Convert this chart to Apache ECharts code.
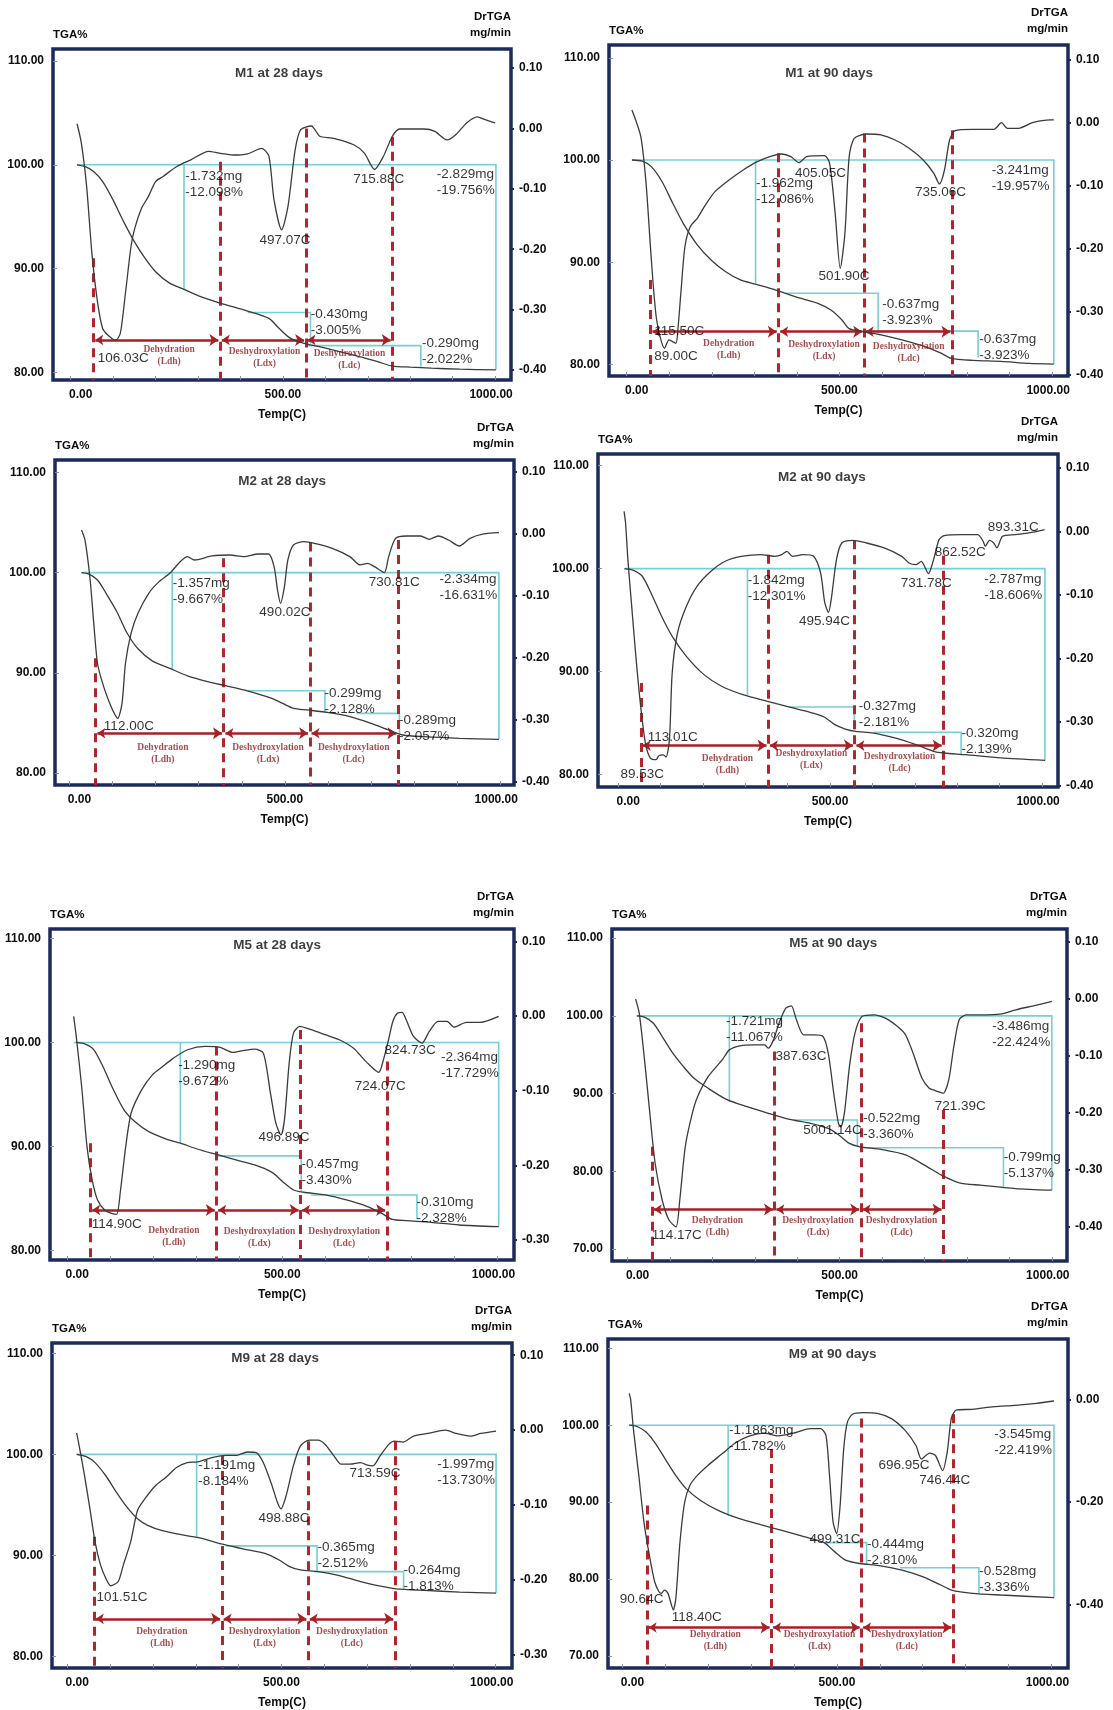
<!DOCTYPE html>
<html>
<head>
<meta charset="utf-8">
<script src="https://cdn.jsdelivr.net/npm/echarts@6/dist/echarts.min.js"></script>
<style>
html,body{margin:0;padding:0;background:#fff;}
#chart{width:1113px;height:1710px;}
</style>
</head>
<body>
<div id="chart"></div>
<script>
// ---------- shared tick values ----------
const X_TICKS = [0,100,200,300,400,500,600,700,800,900,1000];
const X_LABELS = [0,500,1000];
const TGA_TICKS_80 = [80,90,100,110];
const TGA_TICKS_70 = [70,80,90,100,110];
const DTG_TICKS_40 = [0.1,0,-0.1,-0.2,-0.3,-0.4];
const DTG_TICKS_30 = [0.1,0,-0.1,-0.2,-0.3];
const DTG_TICKS_EVEN = [0,-0.2,-0.4];
const PHASE_TEXT = ['Dehydration\n(Ldh)','Deshydroxylation\n(Ldx)','Deshydroxylation\n(Ldc)'];
const TITLES = ['M1 at 28 days','M1 at 90 days','M2 at 28 days','M2 at 90 days','M5 at 28 days','M5 at 90 days','M9 at 28 days','M9 at 90 days'];

// ---------- M1 at 28 days ----------
const m1d28Tga = [[15,100],[33,99.84],[54,99.36],[75,98.4],[100,96.6],[125,94.5],[150,92.6],[175,91.0],[200,89.7],[233,88.6],[267,88.0],[300,87.4],[350,86.7],[417,85.9],[467,85.2],[492,84.2],[517,83.3],[550,82.8],[583,82.5],[633,82.0],[683,81.5],[725,81.0],[758,80.6],[800,80.5],[850,80.4],[917,80.3],[1002,80.24]];
const m1d28Dtg = [[15,0.0077],[25,-0.024],[37.5,-0.096],[50,-0.207],[62.5,-0.284],[75,-0.331],[87.5,-0.342],[106,-0.351],[117,-0.339],[129,-0.273],[142,-0.196],[150,-0.168],[167,-0.132],[183,-0.113],[200,-0.088],[217,-0.080],[250,-0.063],[283,-0.052],[325,-0.038],[350,-0.041],[383,-0.044],[417,-0.042],[450,-0.033],[467,-0.046],[479,-0.118],[497,-0.168],[512,-0.129],[529,-0.035],[542,-0.002],[567,0.004],[587,-0.013],[617,-0.016],[667,-0.027],[692,-0.041],[716,-0.068],[737,-0.046],[758,-0.013],[775,-0.001],[833,-0.001],[858,-0.005],[887,-0.019],[908,-0.010],[933,0.009],[958,0.019],[975,0.015],[1000,0.009]];
const m1d28Total = [15,1002,19.756];
const m1d28Steps = [[267,267,100,12.098],[417,565,85.76,3.005],[558,825,82.57,2.022]];
const m1d28Bounds = [54,352,554,758];
const m1d28BoundTops = [91.0,100.3,103.5,102.7];
const m1d28Notes = [[271,99.65,'-1.732mg\n-12.098%'],[446,93.47,'497.07C'],[667,99.3,'715.88C'],[864,99.84,'-2.829mg\n-19.756%'],[567,86.3,'-0.430mg\n-3.005%'],[65,82.1,'106.03C'],[829,83.55,'-0.290mg\n-2.022%']];
const m1d28Phases = [[233,82.7],[458,82.57],[658,82.3]];

// ---------- M1 at 90 days ----------
const m1d90Tga = [[12.4,100],[37,99.9],[58,99.35],[83,97.9],[108,95.8],[133,93.8],[166,91.7],[199,90.2],[232,89.1],[266,88.3],[303,87.85],[349,87.3],[398,86.6],[448,86.0],[481,85.3],[506,84.35],[523,83.5],[556,83.2],[598,82.9],[647,82.4],[705,81.7],[739,81.1],[763,80.6],[813,80.4],[880,80.3],[946,80.1],[1004,80.04]];
const m1d90Dtg = [[12.4,0.0206],[33.2,-0.0217],[45.6,-0.0958],[58.1,-0.2175],[70.5,-0.3127],[89,-0.3577],[99.6,-0.3444],[115.5,-0.3497],[120.3,-0.3286],[128.6,-0.2598],[137,-0.196],[149.4,-0.1646],[166,-0.1513],[182.6,-0.1328],[207.5,-0.109],[240.7,-0.0905],[273.9,-0.0746],[307,-0.0614],[340,-0.0524],[365,-0.0492],[386,-0.0534],[405,-0.063],[423,-0.0534],[465,-0.0519],[477,-0.064],[490,-0.143],[502,-0.2307],[513,-0.175],[523,-0.0534],[535,-0.0243],[564,-0.0175],[597.5,-0.019],[631,-0.027],[664,-0.040],[697,-0.0587],[722,-0.0799],[735,-0.0968],[747,-0.0746],[759,-0.027],[772,-0.0122],[813,-0.010],[863,-0.010],[881,0.0005],[895,-0.0085],[921,-0.0085],[954,0.0005],[996,0.0048],[1004,0.0048]];
const m1d90Total = [12.4,1004,19.957];
const m1d90Steps = [[303,303,100,12.086],[373,591,86.96,3.923],[564,826,83.26,2.6]];
const m1d90Bounds = [56.4,356.8,557.7,765];
const m1d90BoundTops = [88.26,100.65,102.6,102.9];
const m1d90Notes = [[305,98.43,'-1.962mg\n-12.086%'],[397,99.48,'405.05C'],[452,89.37,'501.90C'],[679,97.59,'735.06C'],[859,99.74,'-3.241mg\n-19.957%'],[602,86.6,'-0.637mg\n-3.923%'],[66,83.99,'115.50C'],[66,81.55,'89.00C'],[830,83.18,'-0.637mg\n-3.923%']];
const m1d90Phases = [[241,82.56],[465,82.46],[664,82.33]];

// ---------- M2 at 28 days ----------
const m2d28Tga = [[27.9,100],[44,99.87],[65,99.27],[85,97.94],[110,96.1],[134,93.95],[159,92.4],[192,91.2],[233,90.45],[274,89.7],[323,89.1],[364,88.7],[413,88.2],[470,87.45],[495,86.95],[520,86.46],[552,86.3],[602,86.03],[651,85.63],[700,84.96],[741,84.3],[774,83.8],[823,83.63],[905,83.47],[997,83.37]];
const m2d28Dtg = [[27.9,0.0059],[36,-0.0102],[48,-0.0747],[57,-0.15],[65,-0.209],[77,-0.2414],[93.4,-0.2737],[104,-0.2898],[112,-0.298],[122,-0.2737],[130,-0.209],[143,-0.1608],[159,-0.1285],[184,-0.0962],[208,-0.0774],[233,-0.064],[257,-0.0452],[274,-0.037],[290,-0.0425],[331,-0.036],[372,-0.0344],[405,-0.037],[438,-0.0328],[462,-0.0328],[475,-0.0532],[483,-0.0909],[490,-0.1124],[499,-0.0855],[507,-0.0425],[520,-0.0183],[544,-0.0129],[569,-0.0156],[610,-0.0237],[651,-0.037],[675,-0.0505],[692,-0.0478],[708,-0.0532],[730.8,-0.0629],[741,-0.037],[757,-0.0075],[782,-0.0038],[815,-0.0038],[835,-0.0091],[856,-0.0038],[880,-0.0102],[905,-0.0199],[930,-0.0075],[962,-0.0005],[997,0.0016]];
const m2d28Total = [27.9,997,16.631];
const m2d28Steps = [[238.5,238.5,100,9.667],[413,593,88.22,2.128],[667,766,85.96,2.057]];
const m2d28Bounds = [60.7,358,558,763];
const m2d28BoundTops = [91.45,101.43,103,103.26];
const m2d28Notes = [[241,99.73,'-1.357mg\n-9.667%'],[442,96.81,'490.02C'],[696,99.8,'730.81C'],[860,100.13,'-2.334mg\n-16.631%'],[593,88.69,'-0.299mg\n-2.128%'],[766,86.0,'-0.289mg\n-2.057%'],[81,85.43,'112.00C']];
const m2d28Phases = [[218,83.13],[462,83.13],[661,83.13]];

// ---------- M2 at 90 days ----------
const m2d90Tga = [[15,100],[36,99.84],[57,99.26],[77.5,97.64],[102.5,95.37],[127.5,93.43],[161,91.49],[202.5,89.71],[244,88.58],[294,87.77],[352.5,87.12],[402.5,86.57],[452.5,86.05],[486,85.6],[511,84.85],[536,84.43],[561,84.2],[602.5,84.04],[652.5,83.56],[702.5,82.91],[744,82.27],[769,82.1],[819,81.94],[902.5,81.62],[1007,81.39]];
const m2d90Dtg = [[14,0.0317],[17.5,0.0133],[23,-0.0444],[32,-0.118],[42.5,-0.202],[54,-0.2808],[65,-0.336],[76,-0.357],[89.5,-0.3596],[96,-0.3533],[106.7,-0.352],[113,-0.3554],[121,-0.328],[127.5,-0.223],[140,-0.16],[161,-0.118],[186,-0.0865],[219,-0.0628],[252.5,-0.047],[294,-0.039],[336,-0.0366],[369,-0.0392],[386,-0.0366],[398,-0.0313],[411,-0.0392],[436,-0.0366],[461,-0.0392],[477.5,-0.0654],[487.5,-0.1127],[496,-0.1274],[502.5,-0.1075],[515,-0.0444],[527.5,-0.0182],[552.5,-0.014],[586,-0.0182],[627.5,-0.026],[669,-0.0392],[686,-0.0497],[702.5,-0.0523],[715,-0.0471],[731.8,-0.0665],[744,-0.0444],[757,-0.0129],[769,-0.0066],[811,-0.005],[848,-0.005],[861,-0.0155],[866,-0.0234],[876,-0.014],[886,-0.0182],[893.3,-0.026],[906.7,-0.0077],[936,-0.005],[969,-0.0024],[1006,0.0028]];
const m2d90Total = [15,1006.7,18.606];
const m2d90Steps = [[305,305,100,12.301],[402.5,557,86.57,2.181],[602.5,809,84.11,2.139]];
const m2d90Bounds = [54,354,558,767];
const m2d90BoundTops = [88.9,101.36,102.75,101.26];
const m2d90Notes = [[307,99.64,'-1.842mg\n-12.301%'],[427.5,95.66,'495.94C'],[667.5,99.32,'731.78C'],[748,102.36,'862.52C'],[873,104.72,'893.31C'],[865,99.71,'-2.787mg\n-18.606%'],[569,87.35,'-0.327mg\n-2.181%'],[811,84.76,'-0.320mg\n-2.139%'],[71,84.34,'113.01C'],[6.7,80.78,'89.53C']];
const m2d90Phases = [[259,82.1],[457,82.6],[665,82.3]];

// ---------- M5 at 28 days ----------
const m5d28Tga = [[21,100],[42,99.84],[62,99.29],[83,97.69],[107.5,95.44],[132,93.51],[157,92.39],[189.5,91.42],[230.5,90.7],[263,90.3],[304,89.72],[345,89.24],[386,88.76],[436,88.21],[477,87.47],[501,86.6],[526,85.8],[550,85.58],[600,85.32],[649,84.84],[698,84.2],[731,83.55],[755.5,82.97],[788,82.85],[846,82.69],[911,82.43],[1003,82.27]];
const m5d28Dtg = [[15,-0.0006],[21,-0.0274],[33.6,-0.0944],[46,-0.1749],[58,-0.2196],[70.5,-0.2464],[87,-0.2598],[103,-0.2643],[114.9,-0.2656],[124,-0.233],[136,-0.1749],[148.5,-0.1302],[173,-0.0989],[198,-0.0788],[222,-0.0676],[247,-0.0564],[280,-0.0452],[321,-0.0408],[353.5,-0.0417],[386,-0.0488],[411,-0.0461],[435.6,-0.0444],[456,-0.0497],[472.5,-0.1034],[485,-0.1436],[496.9,-0.1592],[505,-0.1391],[516,-0.0631],[526,-0.0229],[540.6,-0.014],[567,-0.0184],[600,-0.0251],[632.5,-0.0318],[665,-0.043],[698,-0.0631],[724.1,-0.0756],[735,-0.0587],[747,-0.0318],[757,-0.0073],[768,0.0039],[778.5,0.0048],[788,-0.005],[805,-0.0274],[824.7,-0.0363],[841.7,-0.0207],[862,-0.0073],[883,-0.0073],[899,-0.0149],[928,-0.0086],[960,-0.0086],[1003,-0.0006]];
const m5d28Total = [15,1003,17.729];
const m5d28Steps = [[263,263,100,9.672],[349.5,544,89.08,3.430],[567,813,85.32,2.328]];
const m5d28Bounds = [54,347,542,743];
const m5d28BoundTops = [90.3,99.6,101.2,98.17];
const m5d28Notes = [[259,98.55,'-1.290mg\n-9.672%'],[446,91.55,'496.89C'],[669.4,96.47,'724.07C'],[739,100,'824.73C'],[870,99.33,'-2.364mg\n-17.729%'],[546,88.98,'-0.457mg\n-3.430%'],[813,85.29,'-0.310mg\n-2.328%'],[58,83.2,'114.90C']];
const m5d28Phases = [[249,82.46],[448,82.37],[645,82.37]];

// ---------- M5 at 90 days ----------
const m5d90Tga = [[21.7,100],[40,99.83],[61,99.05],[81.7,97.34],[106.7,95.19],[131.7,93.47],[156.7,91.97],[190,90.68],[231.7,89.3],[281.7,88.32],[331.7,87.46],[381.7,86.68],[431.7,86.17],[473,85.52],[498,84.67],[523,83.59],[548,83.16],[598,82.82],[656.7,82.09],[706.7,80.58],[740,79.51],[781.7,78.52],[831.7,78.22],[915,77.79],[1000,77.58]];
const m5d90Dtg = [[19,-0.0012],[27.5,-0.0257],[40,-0.1076],[52.5,-0.2012],[65,-0.2889],[81.7,-0.3532],[98,-0.3883],[114.2,-0.4],[123,-0.3532],[136,-0.2596],[152.5,-0.2012],[165,-0.1719],[190,-0.1368],[223,-0.1076],[240,-0.09],[265,-0.083],[298,-0.0813],[323,-0.0813],[331.7,-0.0871],[344,-0.0725],[357,-0.0433],[373,-0.017],[386,-0.0129],[398,-0.0374],[415,-0.0637],[440,-0.0637],[461,-0.0667],[473,-0.0959],[486,-0.1661],[497,-0.2187],[502.5,-0.2246],[511,-0.2012],[523,-0.1193],[536,-0.0608],[552.5,-0.0316],[581.7,-0.0287],[615,-0.0374],[652.5,-0.0608],[673,-0.0959],[694,-0.1398],[711,-0.1573],[721.4,-0.1602],[731.7,-0.1632],[744,-0.1661],[757,-0.1427],[769,-0.0842],[781.7,-0.0374],[798,-0.0287],[831.7,-0.0287],[881.7,-0.0269],[915,-0.0199],[956.7,-0.0129],[1000,-0.0053]];
const m5d90Total = [21.7,1000,22.424];
const m5d90Steps = [[240,240,100,11.067],[390,541.7,86.6,3.360],[552.5,886,83.03,5.137]];
const m5d90Bounds = [58,346.7,550,744];
const m5d90BoundTops = [83.16,95.4,99.05,87.9];
const m5d90Notes = [[233,100.3,'-1.721mg\n-11.067%'],[350,95.79,'387.63C'],[415,86.25,'5001.14C'],[725,89.35,'721.39C'],[861,99.66,'-3.486mg\n-22.424%'],[556.7,87.84,'-0.522mg\n-3.360%'],[888,82.82,'-0.799mg\n-5.137%'],[58,72.68,'114.17C']];
const m5d90Phases = [[213,74.4],[450,74.4],[647,74.4]];

// ---------- M9 at 28 days ----------
const m9d28Tga = [[22,100],[44.6,99.77],[65,99.18],[90,97.88],[115,96.24],[139.5,94.77],[164,93.63],[189,92.95],[222,92.45],[271.7,92.0],[312,91.7],[362.5,91.1],[412,90.62],[461.6,90.19],[494.6,89.54],[519,88.89],[544,88.56],[585.5,88.39],[635,88],[684.6,87.41],[734,86.92],[767,86.69],[833,86.53],[916,86.37],[1000.8,86.27]];
const m9d28Dtg = [[22,-0.0036],[28,-0.0213],[40.5,-0.061],[53,-0.1051],[65,-0.1492],[77.6,-0.18],[90,-0.1977],[101.5,-0.2078],[119,-0.2021],[131,-0.18],[148,-0.1492],[164,-0.1073],[181,-0.0918],[206,-0.0742],[230,-0.0632],[255,-0.05],[280,-0.0433],[304.7,-0.0424],[337.7,-0.0367],[370.8,-0.0336],[395.5,-0.0336],[420,-0.0292],[441,-0.0301],[457.5,-0.0433],[478,-0.0742],[490.5,-0.0963],[498.9,-0.1051],[511,-0.0874],[527.7,-0.0477],[544,-0.0213],[565,-0.0133],[585.5,-0.0133],[602,-0.0191],[622.6,-0.0345],[639,-0.0455],[660,-0.0455],[684.6,-0.0433],[701,-0.0469],[713.6,-0.0477],[730,-0.0345],[750.6,-0.0191],[763,-0.0147],[783.6,-0.016],[808.4,-0.008],[841.5,-0.0045],[882.7,-0.0001],[907.5,-0.0045],[940.5,-0.008],[965.3,-0.0045],[1000.8,-0.0014]];
const m9d28Total = [22,1000.8,13.730];
const m9d28Steps = [[302,302,100,8.184],[370.8,583,90.94,2.512],[577,785,88.39,1.813]];
const m9d28Bounds = [62.8,361,562,764.7];
const m9d28BoundTops = [91.83,99.84,101.3,101.3];
const m9d28Notes = [[307,99.64,'-1.191mg\n-8.184%'],[447.6,94.41,'498.88C'],[660,98.82,'713.59C'],[864.6,99.71,'-1.997mg\n-13.730%'],[585.5,91.53,'-0.365mg\n-2.512%'],[786,89.24,'-0.264mg\n-1.813%'],[69.4,86.56,'101.51C']];
const m9d28Phases = [[222,83.03],[461.6,83.03],[665.6,83.03]];

// ---------- M9 at 90 days ----------
const m9d90Tga = [[15.6,100],[33.8,99.83],[54.4,99.14],[75,97.76],[99.7,95.6],[124.4,93.45],[149,91.72],[182,90.21],[223,88.92],[272.6,87.84],[322,87.06],[371.5,86.33],[421,85.55],[470,84.73],[495,83.53],[520,82.45],[552.7,82.02],[602,81.72],[651.6,81.16],[701,80.29],[742,79.22],[767,78.57],[816,78.14],[882,77.92],[1006,77.58]];
const m9d90Dtg = [[15.6,0.0116],[19,0],[25.5,-0.058],[38,-0.148],[50,-0.2387],[62.6,-0.3032],[75,-0.3548],[85,-0.3742],[90.6,-0.3774],[98,-0.371],[106,-0.3774],[113,-0.3968],[118.4,-0.4097],[124.4,-0.3871],[134,-0.2774],[145,-0.2],[157,-0.1677],[174,-0.1484],[198.5,-0.129],[231.5,-0.1065],[264.4,-0.0839],[297,-0.071],[330,-0.0658],[363,-0.071],[404.4,-0.0645],[437.4,-0.0568],[462,-0.0568],[474.5,-0.071],[482.7,-0.1484],[491,-0.2387],[499.3,-0.2613],[507.4,-0.2065],[515.7,-0.0968],[524,-0.0452],[536,-0.029],[561,-0.0258],[594,-0.0271],[627,-0.0374],[660,-0.0613],[684.5,-0.0903],[697,-0.1161],[716,-0.1045],[730,-0.1097],[746.4,-0.1387],[757,-0.1032],[767,-0.0355],[779,-0.0206],[816,-0.0194],[866,-0.0142],[915,-0.0116],[965,-0.0077],[1006,-0.0032]];
const m9d90Total = [15.6,1006,22.419];
const m9d90Steps = [[246.3,246.3,100,11.782],[470,569,84.73,2.810],[647.5,831,81.46,3.336]];
const m9d90Bounds = [57,347,557,771];
const m9d90BoundTops = [89.56,96.9,100.86,101.42];
const m9d90Notes = [[249.6,100.3,'-1.1863mg\n-11.782%'],[437,86.2,'499.31C'],[598,95.77,'696.95C'],[693,93.75,'746.44C'],[868,99.78,'-3.545mg\n-22.419%'],[571,85.51,'-0.444mg\n-2.810%'],[833,81.98,'-0.528mg\n-3.336%'],[-5,78.31,'90.64C'],[116,76.02,'118.40C']];
const m9d90Phases = [[217.5,73.44],[460.5,73.44],[664,73.44]];

// ---------- layout: frame boxes (px) and axis extents ----------
const GRID_BOX = [
  [53,49,458,331],[609,45,459,331],
  [55,460,459,325],[598,454,460,333],
  [50,929,464,331],[612,929,455,332],
  [52,1343,460,328],[608,1339,460,331]
];
const X_RANGE = [[-41.7,1037.5],[-41.5,1037.3],[-33.6,1032],[-47.5,1037.5],[-40,1038.6],[-36.7,1035.8],[-35.5,1038],[-33.8,1038.7]];
const TGA_RANGE = [[79.26,111.16],[78.87,111.25],[78.81,111.24],[78.8,111.13],[79.06,110.92],[68.47,111.17],[78.85,111.02],[68.43,111.21]];
const DTG_RANGE = [[-0.4166,0.1315],[-0.4016,0.1238],[-0.4054,0.1188],[-0.4026,0.122],[-0.3268,0.1165],[-0.4596,0.1216],[-0.3176,0.1163],[-0.5226,0.1174]];
const TITLE_AT = [[492,108.8],[477,108.4],[495,109.08],[481.7,108.8],[489,109.3],[486,109.28],[486.4,109.48],[491,109.18]];
const ARROW_LEVEL = [83.12,83.21,83.97,82.82,83.87,75.09,83.72,73.7];

const PANELS = [
  {tga:m1d28Tga,dtg:m1d28Dtg,total:m1d28Total,steps:m1d28Steps,bounds:m1d28Bounds,tops:m1d28BoundTops,notes:m1d28Notes,phases:m1d28Phases,lt:TGA_TICKS_80,rt:DTG_TICKS_40},
  {tga:m1d90Tga,dtg:m1d90Dtg,total:m1d90Total,steps:m1d90Steps,bounds:m1d90Bounds,tops:m1d90BoundTops,notes:m1d90Notes,phases:m1d90Phases,lt:TGA_TICKS_80,rt:DTG_TICKS_40},
  {tga:m2d28Tga,dtg:m2d28Dtg,total:m2d28Total,steps:m2d28Steps,bounds:m2d28Bounds,tops:m2d28BoundTops,notes:m2d28Notes,phases:m2d28Phases,lt:TGA_TICKS_80,rt:DTG_TICKS_40},
  {tga:m2d90Tga,dtg:m2d90Dtg,total:m2d90Total,steps:m2d90Steps,bounds:m2d90Bounds,tops:m2d90BoundTops,notes:m2d90Notes,phases:m2d90Phases,lt:TGA_TICKS_80,rt:DTG_TICKS_40},
  {tga:m5d28Tga,dtg:m5d28Dtg,total:m5d28Total,steps:m5d28Steps,bounds:m5d28Bounds,tops:m5d28BoundTops,notes:m5d28Notes,phases:m5d28Phases,lt:TGA_TICKS_80,rt:DTG_TICKS_30},
  {tga:m5d90Tga,dtg:m5d90Dtg,total:m5d90Total,steps:m5d90Steps,bounds:m5d90Bounds,tops:m5d90BoundTops,notes:m5d90Notes,phases:m5d90Phases,lt:TGA_TICKS_70,rt:DTG_TICKS_40},
  {tga:m9d28Tga,dtg:m9d28Dtg,total:m9d28Total,steps:m9d28Steps,bounds:m9d28Bounds,tops:m9d28BoundTops,notes:m9d28Notes,phases:m9d28Phases,lt:TGA_TICKS_80,rt:DTG_TICKS_30},
  {tga:m9d90Tga,dtg:m9d90Dtg,total:m9d90Total,steps:m9d90Steps,bounds:m9d90Bounds,tops:m9d90BoundTops,notes:m9d90Notes,phases:m9d90Phases,lt:TGA_TICKS_70,rt:DTG_TICKS_EVEN}
];

// ---------- styles ----------
const FRAME = '#1d2b5c';
const INK = '#0d0d0d';
const CURVE = '#3b3b3b';
const CYAN = '#74cfd6';
const RED = '#b3252b';
const SANS = 'Liberation Sans, Arial, sans-serif';
const SERIF = 'Liberation Serif, Times New Roman, serif';
const AXIS_FONT = {color:INK, fontFamily:SANS, fontWeight:'bold', fontSize:12};

const grid = [], xAxis = [], yAxis = [], series = [];
const fmt2 = v => Number(v).toFixed(2);
// temperature labels sit slightly inward at the two ends of the scale
const fmtTemp = v => v === 0 ? '{lo|0.00}' : (v === 1000 ? '{hi|1000.00}' : '{mid|' + fmt2(v) + '}');

PANELS.forEach((p, i) => {
  const b = GRID_BOX[i];
  grid.push({left:b[0], top:b[1], width:b[2], height:b[3], show:true, borderColor:FRAME, borderWidth:3.5, backgroundColor:'#fff'});
  xAxis.push({
    gridIndex:i, type:'value', position:'bottom', min:X_RANGE[i][0], max:X_RANGE[i][1],
    name:'Temp(C)', nameLocation:'middle', nameGap:29, nameTextStyle:AXIS_FONT,
    axisLine:{show:false, onZero:false}, splitLine:{show:false},
    axisTick:{show:true, inside:true, customValues:X_TICKS, length:4, lineStyle:{color:'#8a8fa8', width:1}},
    axisLabel:{customValues:X_LABELS, formatter:fmtTemp, margin:9, ...AXIS_FONT,
      rich:{lo:{...AXIS_FONT, padding:[0,0,0,20]}, mid:{...AXIS_FONT}, hi:{...AXIS_FONT, padding:[0,8,0,0]}}}
  });
  const lmin = TGA_RANGE[i][0];
  yAxis.push({
    gridIndex:i, type:'value', position:'left', min:lmin, max:TGA_RANGE[i][1],
    name:'TGA%', nameLocation:'end', nameGap:8,
    nameTextStyle:{...AXIS_FONT, fontSize:11.5, align:'left', verticalAlign:'bottom'},
    axisLine:{show:false, onZero:false}, splitLine:{show:false},
    axisTick:{show:true, inside:true, customValues:p.lt, length:4, lineStyle:{color:'#8a8fa8'}},
    axisLabel:{customValues:p.lt, formatter:fmt2, margin:9, ...AXIS_FONT}
  });
  yAxis.push({
    gridIndex:i, type:'value', position:'right', min:DTG_RANGE[i][0], max:DTG_RANGE[i][1],
    name:'DrTGA\nmg/min', nameLocation:'end', nameGap:8,
    nameTextStyle:{...AXIS_FONT, fontSize:11.5, align:'right', verticalAlign:'bottom', lineHeight:16},
    axisLine:{show:false, onZero:false}, splitLine:{show:false},
    axisTick:{show:true, customValues:p.rt, length:3, lineStyle:{color:FRAME, width:2}},
    axisLabel:{customValues:p.rt, formatter:fmt2, margin:8, ...AXIS_FONT}
  });
  const L = 2*i, R = 2*i+1;

  // cyan step boxes built from the stated mass-loss percentages
  const cyan = [{coords:[[p.total[0],100],[p.total[1],100],[p.total[1],100-p.total[2]]]}]
    .concat(p.steps.map(s => ({coords:[[s[0],s[2]],[s[1],s[2]],[s[1],s[2]-s[3]]]})));
  series.push({type:'lines', coordinateSystem:'cartesian2d', xAxisIndex:i, yAxisIndex:L, polyline:true, silent:true,
    symbol:'none', lineStyle:{color:CYAN, width:1.6, opacity:1}, data:cyan, z:3});

  // stage boundaries
  series.push({type:'lines', coordinateSystem:'cartesian2d', xAxisIndex:i, yAxisIndex:L, silent:true,
    symbol:'none', lineStyle:{color:RED, width:3, type:[9,6], opacity:1},
    data:p.bounds.map((t,k) => ({coords:[[t,p.tops[k]],[t,lmin]]})), z:4});

  // double arrows spanning each stage
  const arrows = [];
  for (let k = 0; k < 3; k++) {
    arrows.push({coords:[[p.bounds[k]+4, ARROW_LEVEL[i]],[p.bounds[k+1]-4, ARROW_LEVEL[i]]]});
  }
  series.push({type:'lines', coordinateSystem:'cartesian2d', xAxisIndex:i, yAxisIndex:L, silent:true,
    symbol:['arrow','arrow'], symbolSize:[8,9], lineStyle:{color:'#a81f24', width:2.6, opacity:1}, data:arrows, z:5});

  // TGA and DTG curves
  series.push({type:'line', xAxisIndex:i, yAxisIndex:L, data:p.tga, showSymbol:false, smooth:0.25, silent:true,
    lineStyle:{color:CURVE, width:1.3}, z:6});
  series.push({type:'line', xAxisIndex:i, yAxisIndex:R, data:p.dtg, showSymbol:false, smooth:0.25, silent:true,
    lineStyle:{color:CURVE, width:1.3}, z:6});

  // annotations
  series.push({type:'scatter', xAxisIndex:i, yAxisIndex:L, symbolSize:1, silent:true, itemStyle:{color:'rgba(0,0,0,0)'},
    data:p.notes, z:8,
    label:{show:true, position:[0,0], align:'left', verticalAlign:'top', formatter:d => d.data[2],
      color:'#000', fontFamily:SANS, fontSize:13.5, lineHeight:16}});
  series.push({type:'scatter', xAxisIndex:i, yAxisIndex:L, symbolSize:1, silent:true, itemStyle:{color:'rgba(0,0,0,0)'},
    data:p.phases.map((q,k) => [q[0], q[1], PHASE_TEXT[k]]), z:8,
    label:{show:true, position:[0,0], align:'center', verticalAlign:'top', formatter:d => d.data[2],
      color:'#8e1b1e', fontFamily:SERIF, fontWeight:'bold', fontSize:9.5, lineHeight:12}});
  series.push({type:'scatter', xAxisIndex:i, yAxisIndex:L, symbolSize:1, silent:true, itemStyle:{color:'rgba(0,0,0,0)'},
    data:[[TITLE_AT[i][0], TITLE_AT[i][1], TITLES[i]]], z:8,
    label:{show:true, position:[0,0], align:'center', verticalAlign:'middle', formatter:d => d.data[2],
      color:INK, fontFamily:SANS, fontWeight:'bold', fontSize:13.5}});
});

const chart = echarts.init(document.getElementById('chart'), null, {renderer:'canvas'});
chart.setOption({backgroundColor:'#fff', animation:false, grid, xAxis, yAxis, series});
</script>
</body>
</html>
